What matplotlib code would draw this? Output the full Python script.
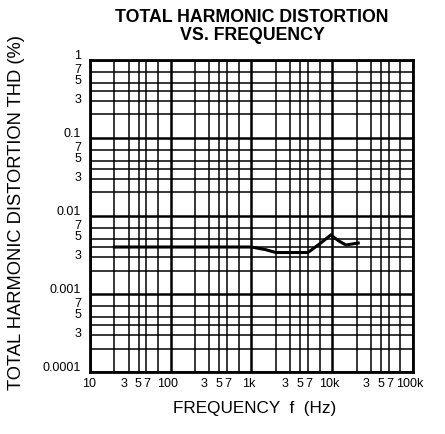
import matplotlib

matplotlib.use("Agg")
import matplotlib.pyplot as plt
import matplotlib.transforms as mtransforms
from matplotlib.ticker import NullFormatter, NullLocator

plt.rcParams["font.family"] = ["Liberation Sans", "DejaVu Sans"]

# data
freq_hz = [20, 50, 100, 200, 500, 700, 1000, 1500, 2000, 3000, 5000, 7000,
           9600, 12000, 14800, 21000]
thd_pct = [0.0040, 0.0040, 0.0040, 0.0040, 0.0040, 0.0040, 0.0040, 0.0037,
           0.0034, 0.0034, 0.0034, 0.0044, 0.0057, 0.0048, 0.00425, 0.0045]

x_major = [10, 100, 1000, 10000, 100000]
y_major = [0.0001, 0.001, 0.01, 0.1, 1]
minor_mult = [2, 3, 4, 5, 7]
label_mult = [3, 5, 7]

x_names = ["10", "100", "1k", "10k", "100k"]
y_names = ["0.0001", "0.001", "0.01", "0.1", "1"]

# the printed 3/5/7 labels are squeezed toward the lower decade (pixels)
X_NUDGE = {3: -5, 5: -8, 7: -11}
Y_NUDGE = {3: 1, 5: 2, 7: 2}
TICK_PT = 9.0


def main():
    fig = plt.figure(figsize=(4.45, 4.34), dpi=100)
    ax = fig.add_axes([0.2022, 0.1429, 0.7258, 0.7189])
    ax.set_xscale("log")
    ax.set_yscale("log")
    ax.set_xlim(x_major[0], x_major[-1])
    ax.set_ylim(y_major[0], y_major[-1])

    # grid: decades thick, 2/3/4/5/7 lines thinner
    for d in x_major[:-1]:
        for m in minor_mult:
            ax.axvline(d * m, color="black", lw=1.1, zorder=1)
    for d in y_major[:-1]:
        for m in minor_mult:
            ax.axhline(d * m, color="black", lw=1.1, zorder=1)
    for v in x_major:
        ax.axvline(v, color="black", lw=1.8, zorder=1)
    for v in y_major:
        ax.axhline(v, color="black", lw=1.8, zorder=1)

    ax.plot(freq_hz, thd_pct, color="black", lw=2.2, zorder=3,
            solid_joinstyle="miter")

    for axis in (ax.xaxis, ax.yaxis):
        axis.set_major_locator(NullLocator())
        axis.set_minor_locator(NullLocator())
        axis.set_minor_formatter(NullFormatter())

    px = 72.0 / fig.dpi
    xtrans = ax.get_xaxis_transform()
    ytrans = ax.get_yaxis_transform()

    # x labels: decade names plus 3 5 7
    for i, d in enumerate(x_major):
        off = mtransforms.offset_copy(xtrans, fig=fig, x=(-3 if i else -1) * px,
                                      y=-6 * px, units="points")
        ax.text(d, 0, x_names[i], transform=off, ha="center", va="top",
                fontsize=TICK_PT)
        if i < len(x_major) - 1:
            for m in label_mult:
                off = mtransforms.offset_copy(xtrans, fig=fig, x=X_NUDGE[m] * px,
                                              y=-6 * px, units="points")
                ax.text(d * m, 0, str(m), transform=off, ha="center", va="top",
                        fontsize=TICK_PT)

    # y labels
    for i, d in enumerate(y_major):
        off = mtransforms.offset_copy(ytrans, fig=fig, x=-9 * px, y=4 * px,
                                      units="points")
        ax.text(0, d, y_names[i], transform=off, ha="right", va="center",
                fontsize=TICK_PT)
        if i < len(y_major) - 1:
            for m in label_mult:
                off = mtransforms.offset_copy(ytrans, fig=fig, x=-9 * px,
                                              y=Y_NUDGE[m] * px, units="points")
                ax.text(0, d * m, str(m), transform=off, ha="right",
                        va="center", fontsize=TICK_PT)

    for spine in ax.spines.values():
        spine.set_linewidth(2.0)

    fig.text(255 / 445, 1 - 409 / 434, "FREQUENCY  f  (Hz)", ha="center",
             va="center", fontsize=12.3)
    fig.text(17 / 445, 1 - 212 / 434, "TOTAL HARMONIC DISTORTION THD (%)",
             ha="center", va="center", rotation=90, fontsize=13.2)
    fig.text(252 / 445, 1 - 17 / 434, "TOTAL HARMONIC DISTORTION", ha="center",
             va="center", fontsize=12.8, fontweight="bold")
    fig.text(252 / 445, 1 - 35 / 434, "VS. FREQUENCY", ha="center",
             va="center", fontsize=12.8, fontweight="bold")

    fig.savefig("out.png", dpi=100, facecolor="white")


if __name__ == "__main__":
    main()
